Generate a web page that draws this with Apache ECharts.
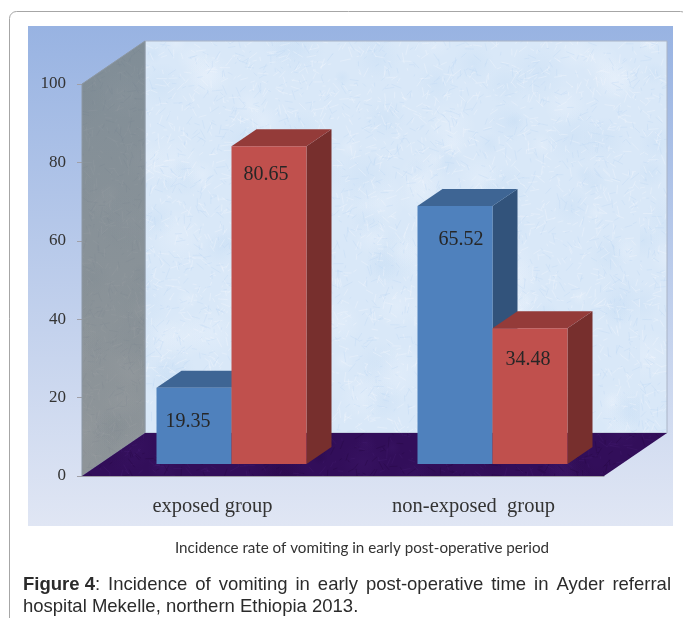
<!DOCTYPE html>
<html>
<head>
<meta charset="utf-8">
<style>html,body{margin:0;padding:0;background:#fff}#chart{width:683px;height:618px}</style>
<script src="https://cdn.jsdelivr.net/npm/echarts@6/dist/echarts.min.js"></script>
</head>
<body>
<div id="chart"></div>
<script>
const categories = ['exposed group', 'non-exposed  group'];
const blueValues = [19.35, 65.52];
const redValues = [80.65, 34.48];
const yTicks = [0, 20, 40, 60, 80, 100];
const subtitle = 'Incidence rate of vomiting in early post-operative period';

// depth of the fake 3d box, back wall and front plane of the bars
const wallDepth = [63, -43];
const barDepth = [25, -17];
const barFront = [19, -12];
const barW = 75;
const heightScale = 1.005;
// hand placed labels, [dx, dy from top of bar]
const blueLabelPos = [[-6, 34], [6, 34]];
const redLabelPos = [[-3, 28], [-2, 32]];

function makeTexture(base, light, dark, strokes, alpha) {
    const c = document.createElement('canvas');
    c.width = c.height = 640;
    const ctx = c.getContext('2d');
    let seed = 12345;
    const next = function () {
        seed = (seed * 1103515245 + 12345) & 0x7fffffff;
        return seed / 0x7fffffff;
    };
    ctx.fillStyle = base;
    ctx.fillRect(0, 0, 640, 640);
    // soft mottling
    for (let i = 0; i < 260; i++) {
        const x = next() * 640, y = next() * 640, r = 8 + next() * 22;
        const g = ctx.createRadialGradient(x, y, 0, x, y, r);
        const col = next() > 0.5 ? light : dark;
        g.addColorStop(0, col);
        g.addColorStop(1, col + '00');
        ctx.globalAlpha = alpha * 0.45;
        ctx.fillStyle = g;
        ctx.fillRect(x - r, y - r, r * 2, r * 2);
    }
    for (let i = 0; i < strokes; i++) {
        ctx.globalAlpha = alpha;
        ctx.strokeStyle = next() > 0.45 ? light : dark;
        ctx.lineWidth = 0.6;
        const x = next() * 640, y = next() * 640, a = next() * 6.28, l = 2 + next() * 9;
        ctx.beginPath();
        ctx.moveTo(x, y);
        ctx.lineTo(x + Math.cos(a) * l, y + Math.sin(a) * l);
        ctx.stroke();
    }
    return {image: c, repeat: 'repeat'};
}

const backTexture = makeTexture('#d9e8f8', '#f3f7fd', '#bfd9f3', 9000, 0.6);
const sideTexture = makeTexture('#8a9297', '#9da0a3', '#78848c', 9000, 0.5);
const floorTexture = makeTexture('#320e5a', '#421c70', '#240640', 7000, 0.6);

function renderWalls(params, api) {
    const s = params.coordSys;
    const l = s.x, r = s.x + s.width, t = s.y, b = s.y + s.height;
    const dx = wallDepth[0], dy = wallDepth[1];
    const side = [[l, t], [l + dx, t + dy], [l + dx, b + dy], [l, b]];
    return {
        type: 'group',
        children: [
            {type: 'polygon', shape: {points: [[l + dx, t + dy], [r + dx, t + dy], [r + dx, b + dy], [l + dx, b + dy]]},
                style: {fill: backTexture, stroke: '#aab4c6', lineWidth: 1}},
            {type: 'polygon', shape: {points: side}, style: {fill: sideTexture}},
            {type: 'polygon', shape: {points: side},
                style: {
                    fill: new echarts.graphic.LinearGradient(0, 0, 0, 1, [
                        {offset: 0, color: 'rgba(105,130,150,0.3)'},
                        {offset: 1, color: 'rgba(160,160,160,0.2)'}
                    ]),
                    stroke: '#8d98a4', lineWidth: 1
                }},
            {type: 'polygon', shape: {points: [[l, b], [l + dx, b + dy], [r + dx, b + dy], [r, b]]},
                style: {fill: floorTexture}}
        ]
    };
}

function barRenderer(slot, colors, labelPos) {
    return function (params, api) {
        const cat = api.value(0), val = api.value(1);
        const base = api.coord([cat, 0]);
        const h = base[1] - api.coord([cat, val])[1];
        const x0 = base[0] + barFront[0] - barW + slot * barW;
        const x1 = x0 + barW;
        const yb = base[1] + barFront[1];
        const yt = yb - h * heightScale;
        const dx = barDepth[0], dy = barDepth[1];
        return {
            type: 'group',
            children: [
                {type: 'polygon', shape: {points: [[x1, yt], [x1 + dx, yt + dy], [x1 + dx, yb + dy], [x1, yb]]},
                    style: {fill: colors[2]}},
                {type: 'polygon', shape: {points: [[x0, yt], [x0 + dx, yt + dy], [x1 + dx, yt + dy], [x1, yt]]},
                    style: {fill: colors[1]}},
                {type: 'rect', shape: {x: x0, y: yt, width: barW, height: yb - yt}, style: {fill: colors[0]}},
                {type: 'text', x: (x0 + x1) / 2 + labelPos[cat][0], y: yt + labelPos[cat][1],
                    style: {text: val.toFixed(2), fill: '#262626', align: 'center', verticalAlign: 'middle',
                        font: '20px "Liberation Serif"'}}
            ]
        };
    };
}

// spread the words over the column like the journal's justified caption
function justified(parts, x0, x1, baseline) {
    const ctx = document.createElement('canvas').getContext('2d');
    const fonts = {b: 'bold 18.5px "Liberation Sans"', n: '18.5px "Liberation Sans"'};
    let total = 0, gaps = 0;
    parts.forEach(function (p) {
        ctx.font = fonts[p[1]];
        p.w = ctx.measureText(p[0]).width;
        total += p.w;
        if (p[2]) gaps++;
    });
    const gap = gaps ? (x1 - x0 - total) / gaps : 0;
    let x = x0;
    return parts.map(function (p) {
        const el = {type: 'text', z: 20, x: x, y: baseline,
            style: {text: p[0], font: fonts[p[1]], fill: '#2b2b2b', verticalAlign: 'bottom'}};
        x += p.w + (p[2] ? gap : 0);
        return el;
    });
}

function words(str) {
    return str.split(' ').map(function (w, i, all) {
        return [w, 'n', i < all.length - 1];
    });
}

const captionLine1 = [['Figure 4', 'b', false], [':', 'n', true]].concat(
    words('Incidence of vomiting in early post-operative time in Ayder referral')
);
const captionLine2 = [['hospital Mekelle, northern Ethiopia 2013.', 'n', false]];

const myChart = echarts.init(document.getElementById('chart'), null, {renderer: 'canvas'});
myChart.setOption({
    animation: false,
    backgroundColor: '#fff',
    graphic: [
        {type: 'rect', z: -20, shape: {x: 9.5, y: 11.5, width: 678, height: 800, r: 7},
            style: {fill: '#fff', stroke: '#a6a6a6', lineWidth: 1}},
        {type: 'rect', z: -10, shape: {x: 28, y: 26, width: 645, height: 500},
            style: {
                fill: new echarts.graphic.LinearGradient(0, 0, 0, 1, [
                    {offset: 0, color: '#98b3e2'},
                    {offset: 1, color: '#e0e6f4'}
                ])
            }},
        {type: 'text', z: 20, x: 362, y: 548,
            style: {text: subtitle, font: '15.2px Lato', fill: '#333', align: 'center', verticalAlign: 'middle'}}
    ].concat(justified(captionLine1, 23, 671, 594), justified(captionLine2, 23, 360, 616)),
    grid: {left: 82, right: 79, top: 84, bottom: 142},
    xAxis: {
        type: 'category',
        data: categories,
        axisLine: {lineStyle: {color: '#a0a0a8', width: 1}},
        axisTick: {length: 5, lineStyle: {color: '#a0a0a8'}},
        axisLabel: {color: '#333', fontFamily: 'Liberation Serif', fontSize: 20.5, margin: 20}
    },
    yAxis: {
        type: 'value',
        min: yTicks[0],
        max: yTicks[yTicks.length - 1],
        interval: yTicks[1] - yTicks[0],
        splitLine: {show: false},
        axisLine: {show: true, lineStyle: {color: '#a0a0a8', width: 1}},
        axisTick: {show: true, length: 5, lineStyle: {color: '#a0a0a8'}},
        axisLabel: {color: '#333', fontFamily: 'Liberation Serif', fontSize: 17, margin: 16, padding: [3, 0, 0, 0]}
    },
    series: [
        {type: 'custom', name: 'walls', silent: true, z: 1, data: [[0, 0]], renderItem: renderWalls},
        {type: 'custom', name: 'blue', silent: true, z: 3,
            data: blueValues.map(function (v, i) { return [i, v]; }),
            encode: {x: 0, y: 1},
            renderItem: barRenderer(0, ['#4f81bd', '#3e6594', '#32537b'], blueLabelPos)},
        {type: 'custom', name: 'red', silent: true, z: 4,
            data: redValues.map(function (v, i) { return [i, v]; }),
            encode: {x: 0, y: 1},
            renderItem: barRenderer(1, ['#c0504d', '#943b39', '#772f2d'], redLabelPos)}
    ]
});
</script>
</body>
</html>
